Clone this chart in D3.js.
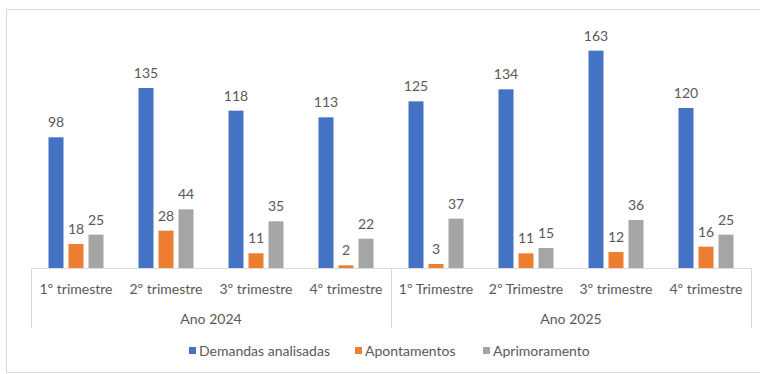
<!DOCTYPE html>
<html>
<head>
<meta charset="utf-8">
<script src="https://cdn.jsdelivr.net/npm/d3@7"></script>
<style>
  body { margin: 0; background: #fff; }
  text { font-family: Lato, "Open Sans", sans-serif; fill: #595959; }
</style>
</head>
<body>
<div id="chart"></div>
<script>
const quarters = ["1º trimestre", "2º trimestre", "3º trimestre", "4º trimestre",
                  "1º Trimestre", "2º Trimestre", "3º trimestre", "4º trimestre"];
const years = ["Ano 2024", "Ano 2025"];
const seriesNames = ["Demandas analisadas", "Apontamentos", "Aprimoramento"];
const demandas = [98, 135, 118, 113, 125, 134, 163, 120];
const apontamentos = [18, 28, 11, 2, 3, 11, 12, 16];
const aprimoramento = [25, 44, 35, 22, 37, 15, 36, 25];
const colors = ["#4472C4", "#ED7D31", "#A5A5A5"];

const width = 760, height = 374;
const svg = d3.select("#chart")
    .append("svg")
    .attr("width", width)
    .attr("height", height);

// outer chart border
svg.append("rect")
    .attr("x", 6.5)
    .attr("y", 9.5)
    .attr("width", 800)
    .attr("height", 363)
    .attr("fill", "none")
    .attr("stroke", "#d9d9d9");

const seriesValues = [demandas, apontamentos, aprimoramento];
const data = quarters.map((q, i) => ({
    idx: i,
    values: seriesNames.map((s, j) => ({ name: s, value: seriesValues[j][i], color: colors[j] }))
}));

const x = d3.scaleBand()
    .domain(d3.range(quarters.length))
    .range([31, 751]);

const xInner = d3.scaleBand()
    .domain(seriesNames)
    .range([0, x.bandwidth()])
    .paddingInner(0.25)
    .paddingOuter(0.875);

const y = d3.scaleLinear()
    .domain([0, 180])
    .range([268, 28]);

const groups = svg.selectAll("g.group")
    .data(data)
    .enter()
    .append("g")
    .attr("class", "group")
    .attr("transform", d => `translate(${x(d.idx)}, 0)`);

groups.selectAll("rect")
    .data(d => d.values)
    .enter()
    .append("rect")
    .attr("x", d => xInner(d.name))
    .attr("y", d => y(d.value))
    .attr("width", xInner.bandwidth())
    .attr("height", d => y(0) - y(d.value))
    .attr("fill", d => d.color);

groups.selectAll("text.val")
    .data(d => d.values)
    .enter()
    .append("text")
    .attr("class", "val")
    .attr("x", d => xInner(d.name) + xInner.bandwidth() / 2)
    .attr("y", d => y(d.value) - 10)
    .attr("text-anchor", "middle")
    .style("font-size", "14px")
    .text(d => d.value);

// category axis box
const axisG = svg.append("g")
    .attr("stroke", "#d9d9d9")
    .attr("stroke-width", 1);

axisG.append("line")
    .attr("x1", 31).attr("x2", 751)
    .attr("y1", y(0) + 0.5).attr("y2", y(0) + 0.5);

const dividers = [0, 4, 8].map(i => i < 8 ? x(i) : x(7) + x.bandwidth());
axisG.selectAll("line.div")
    .data(dividers)
    .enter()
    .append("line")
    .attr("class", "div")
    .attr("x1", d => Math.round(d) + 0.5)
    .attr("x2", d => Math.round(d) + 0.5)
    .attr("y1", y(0))
    .attr("y2", 328);

svg.selectAll("text.cat")
    .data(quarters)
    .enter()
    .append("text")
    .attr("class", "cat")
    .attr("x", (d, i) => x(i) + x.bandwidth() / 2)
    .attr("y", 294)
    .attr("text-anchor", "middle")
    .style("font-size", "14px")
    .text(d => d);

svg.selectAll("text.year")
    .data(years)
    .enter()
    .append("text")
    .attr("class", "year")
    .attr("x", (d, i) => x(i * 4) + x.bandwidth() * 2)
    .attr("y", 324)
    .attr("text-anchor", "middle")
    .style("font-size", "14px")
    .text(d => d);

// legend
const legendX = [189, 355, 483];
const legend = svg.selectAll("g.legend")
    .data(seriesNames)
    .enter()
    .append("g")
    .attr("class", "legend")
    .attr("transform", (d, i) => `translate(${legendX[i]}, 351)`);

legend.append("rect")
    .attr("x", 0)
    .attr("y", -4)
    .attr("width", 7)
    .attr("height", 7)
    .attr("fill", (d, i) => colors[i]);

legend.append("text")
    .attr("x", 10)
    .attr("y", 5)
    .style("font-size", "14px")
    .text(d => d);
</script>
</body>
</html>
